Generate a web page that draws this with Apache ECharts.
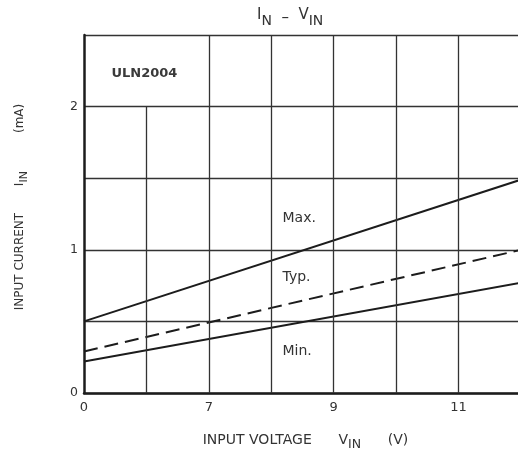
<!DOCTYPE html>
<html>
<head>
<meta charset="utf-8">
<script src="https://cdn.jsdelivr.net/npm/echarts@6/dist/echarts.min.js"></script>
<style>
  html, body { margin: 0; padding: 0; background: #fff; }
  #chart { width: 518px; height: 454px; }
</style>
</head>
<body>
<div id="chart"></div>
<script>
// Horizontal axis uses grid positions 0..7; the axis is broken after 0 V,
// so position 0 is 0 V and positions 1..7 are 6 V .. 12 V.
const xTickLabels = ['0', '', '7', '', '9', '', '11', ''];
const yTickLabels = { 0: '0', 1: '1', 2: '2' };

// Input current (mA) at the ends of each straight characteristic
const maxCurve = [[0, 0.50], [7, 1.49]];
const typCurve = [[0, 0.29], [7, 1.00]];
const minCurve = [[0, 0.22], [7, 0.77]];

// Vertical grid lines: [x position, top of line in mA]
const vGrid = [[1, 2.0], [2, 2.5], [3, 2.5], [4, 2.5], [5, 2.5], [6, 2.5]];

const ink = '#1c1c1c';
const gridInk = '#333';
const textInk = '#333';
const font = '"DejaVu Sans", "Open Sans", sans-serif';

const chart = echarts.init(document.getElementById('chart'), null, { renderer: 'canvas' });

const lineStyleBase = { color: ink, width: 2 };

chart.setOption({
  animation: false,
  backgroundColor: '#fff',
  title: {
    text: '{m|I}{s|N}{d|  –  }{m|V}{s|IN}',
    left: 252,
    top: 3,
    textStyle: {
      fontWeight: 'normal',
      rich: {
        m: { fontFamily: font, fontSize: 15, fontWeight: 'normal', color: textInk, verticalAlign: 'top', lineHeight: 20 },
        s: { fontFamily: font, fontSize: 14, fontWeight: 'normal', color: textInk, verticalAlign: 'bottom', lineHeight: 20 },
        d: { fontFamily: font, fontSize: 15, fontWeight: 'normal', color: textInk, lineHeight: 20 }
      }
    }
  },
  grid: { left: 84, top: 35, width: 437, height: 358, containLabel: false, outerBoundsMode: 'none' },
  xAxis: {
    type: 'value',
    min: 0,
    max: 7,
    interval: 1,
    name: '{t|INPUT VOLTAGE      V}{s|IN}{t|      (V)}',
    nameLocation: 'middle',
    nameGap: 40,
    nameTextStyle: {
      padding: [0, 0, 0, 6],
      rich: {
        t: { fontFamily: font, fontSize: 14, color: textInk, verticalAlign: 'top', lineHeight: 18 },
        s: { fontFamily: font, fontSize: 12.5, color: textInk, verticalAlign: 'bottom', lineHeight: 18 }
      }
    },
    axisLine: { show: true, lineStyle: { color: ink, width: 2.5 } },
    axisTick: { show: false },
    splitLine: { show: false },
    axisLabel: {
      show: true,
      margin: 8,
      fontFamily: font,
      fontSize: 13,
      color: textInk,
      formatter: v => xTickLabels[Math.round(v)] || ''
    }
  },
  yAxis: {
    type: 'value',
    min: 0,
    max: 2.5,
    interval: 0.5,
    name: '{t|INPUT CURRENT       I}{s|IN}{t|          (mA)}',
    nameLocation: 'middle',
    nameRotate: 90,
    nameGap: 54,
    nameTextStyle: {
      padding: [0, 0, 0, 14],
      rich: {
        t: { fontFamily: font, fontSize: 12, color: textInk, verticalAlign: 'top', lineHeight: 16 },
        s: { fontFamily: font, fontSize: 11, color: textInk, verticalAlign: 'bottom', lineHeight: 16 }
      }
    },
    axisLine: { show: true, lineStyle: { color: ink, width: 2.5 } },
    axisTick: { show: false },
    splitLine: { show: true, lineStyle: { color: gridInk, width: 1.3 } },
    axisLabel: {
      show: true,
      margin: 6,
      fontFamily: font,
      fontSize: 12.5,
      color: textInk,
      formatter: v => yTickLabels[v] || ''
    }
  },
  series: [
    {
      // vertical grid lines and text annotations
      type: 'line',
      data: [],
      silent: true,
      markLine: {
        silent: true,
        symbol: 'none',
        label: { show: false },
        lineStyle: { color: gridInk, width: 1.3, type: 'solid' },
        data: vGrid.map(([x, top]) => [{ coord: [x, 0] }, { coord: [x, top] }])
      },
      markPoint: {
        silent: true,
        symbol: 'circle',
        symbolSize: 0,
        label: {
          show: true,
          position: 'right',
          distance: 0,
          fontFamily: font,
          fontSize: 14,
          color: textInk,
          formatter: p => p.name
        },
        data: [
          { name: 'ULN2004', coord: [0.44, 2.23], label: { fontWeight: 'bold', fontSize: 13, color: '#3a3a3a' } },
          { name: 'Max.', coord: [3.18, 1.22] },
          { name: 'Typ.', coord: [3.18, 0.81] },
          { name: 'Min.', coord: [3.18, 0.29] }
        ]
      }
    },
    {
      name: 'Max.',
      type: 'line',
      data: maxCurve,
      symbol: 'none',
      silent: true,
      lineStyle: lineStyleBase
    },
    {
      name: 'Typ.',
      type: 'line',
      data: typCurve,
      symbol: 'none',
      silent: true,
      lineStyle: Object.assign({}, lineStyleBase, { type: [14, 7] })
    },
    {
      name: 'Min.',
      type: 'line',
      data: minCurve,
      symbol: 'none',
      silent: true,
      lineStyle: lineStyleBase
    }
  ]
});
</script>
</body>
</html>
